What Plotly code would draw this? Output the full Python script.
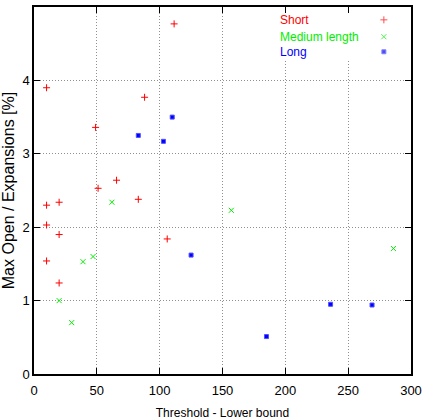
import plotly.graph_objects as go

short_x = [10, 111.5, 88, 49, 65.7, 51, 83, 20, 10, 10, 20, 10, 20, 106]
short_y = [3.90, 4.77, 3.77, 3.36, 2.64, 2.53, 2.38, 2.34, 2.30, 2.03, 1.90, 1.54, 1.24, 1.84]

medium_x = [62, 39, 47, 20, 30, 157, 286]
medium_y = [2.34, 1.53, 1.60, 1.00, 0.70, 2.23, 1.71]

long_x = [83, 110, 103, 125, 185, 236, 269]
long_y = [3.25, 3.50, 3.17, 1.62, 0.51, 0.95, 0.94]

series_names = ["Short", "Medium length", "Long"]
colors = ["#ff0000", "#00ee00", "#0000ff"]
line_colors = ["#ff0000", "#00ee00", "#5050ff"]
symbols = ["cross-thin", "x-thin", "square"]
sizes = [5, 5, 4]
widths = [1, 1, 1]

FONT = "Liberation Sans, Arial, Helvetica, sans-serif"

fig = go.Figure()
for xs, ys, name, c, lc, s, sz, w in zip([short_x, medium_x, long_x], [short_y, medium_y, long_y],
                                          series_names, colors, line_colors, symbols, sizes, widths):
    fig.add_trace(go.Scatter(x=xs, y=ys, mode="markers", name=name, showlegend=False,
                             marker=dict(symbol=s, size=sz, color=c, line=dict(color=lc, width=w))))

# legend (gnuplot style: text left, sample right)
leg_y = [0.965, 0.919, 0.878]
fig.add_trace(go.Scatter(x=[0.928] * 3, y=leg_y, xaxis="x2", yaxis="y2", mode="markers",
                         showlegend=False, hoverinfo="skip",
                         marker=dict(symbol=symbols, size=sizes, color=colors,
                                     line=dict(color=line_colors, width=widths))))
for name, c, yy in zip(series_names, colors, leg_y):
    fig.add_annotation(x=0.648, y=yy, xref="paper", yref="paper", text=name, showarrow=False,
                       xanchor="left", yanchor="middle", font=dict(color=c, size=12, family=FONT))

# blank box behind legend (gnuplot key blanks grid)
fig.add_shape(type="rect", xref="x", yref="y", x0=188, x1=291, y0=4.28, y1=4.93,
              fillcolor="white", line=dict(width=0), layer="between")

axis_common = dict(showline=True, linecolor="black", linewidth=1.5, mirror="ticks",
                   ticks="inside", ticklen=6, tickcolor="black", tickwidth=1,
                   showgrid=True, gridcolor="#909090", griddash="1px,2px", gridwidth=1,
                   zeroline=False, automargin=False,
                   tickfont=dict(size=13, family=FONT, color="black"))

fig.update_layout(
    width=423, height=420,
    margin=dict(l=34, r=12, t=7, b=46),
    plot_bgcolor="white", paper_bgcolor="white",
    font=dict(family=FONT, color="black"),
    hovermode=False,
    xaxis=dict(range=[0, 300], dtick=50, tick0=0, ticklabelstandoff=4,
               title=dict(text="Threshold - Lower bound", font=dict(size=12, family=FONT), standoff=12),
               **axis_common),
    yaxis=dict(range=[0, 5], dtick=1, tick0=0,
               title=dict(text="Max Open / Expansions [%]", font=dict(size=16, family=FONT), standoff=6),
               **axis_common),
    xaxis2=dict(overlaying="x", range=[0, 1], visible=False),
    yaxis2=dict(overlaying="y", range=[0, 1], visible=False),
)

fig.write_html("out.html")
